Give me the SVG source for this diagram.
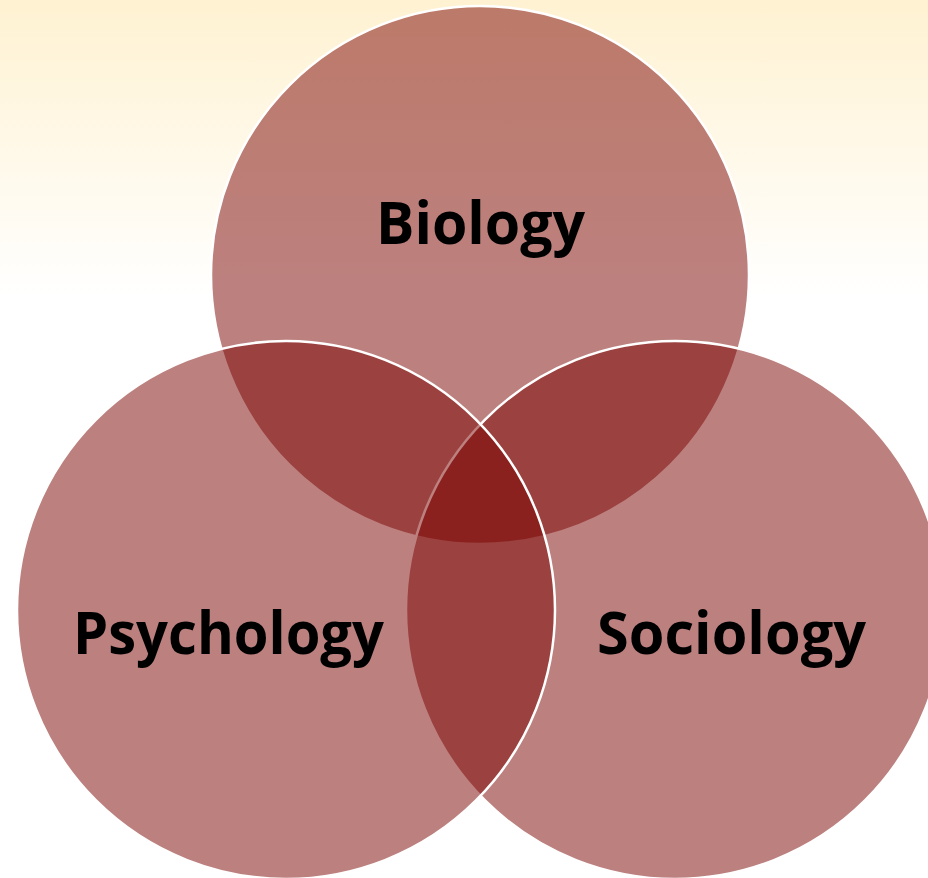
<svg xmlns="http://www.w3.org/2000/svg" width="928" height="878" viewBox="0 0 928 878">
  <defs>
    <linearGradient id="bg" x1="0" y1="0" x2="0" y2="878" gradientUnits="userSpaceOnUse">
      <stop offset="0" stop-color="#FFF2D2"/>
      <stop offset="0.34" stop-color="#FFFFFF"/>
      <stop offset="1" stop-color="#FFFFFF"/>
    </linearGradient>
    <style>
      .set { fill: rgb(121,2,0); fill-opacity: 0.5; stroke: #FFFFFF; stroke-width: 2.5; }
      .label { font-family: "Open Sans", "Noto Sans", "Liberation Sans", sans-serif; font-weight: 700; font-size: 59px; fill: #000000; text-anchor: middle; }
    </style>
  </defs>

  <!-- backdrop -->
  <rect x="0" y="0" width="928" height="878" fill="url(#bg)"/>

  <!-- three overlapping sets; later circles sit on top -->
  <g id="biology">
    <circle class="set" cx="480" cy="275" r="269"/>
    <text class="label" x="480.5" y="244" textLength="209" lengthAdjust="spacingAndGlyphs">Biology</text>
  </g>
  <g id="sociology">
    <circle class="set" cx="675" cy="610" r="269"/>
  </g>
  <g id="psychology">
    <circle class="set" cx="286" cy="610" r="269"/>
  </g>

  <!-- labels kept above all fills -->
  <g id="labels">
    <text class="label" x="228.5" y="654" textLength="311" lengthAdjust="spacingAndGlyphs">Psychology</text>
    <text class="label" x="731.5" y="654" textLength="269" lengthAdjust="spacingAndGlyphs">Sociology</text>
  </g>

  <g id="connectors"/>
</svg>
